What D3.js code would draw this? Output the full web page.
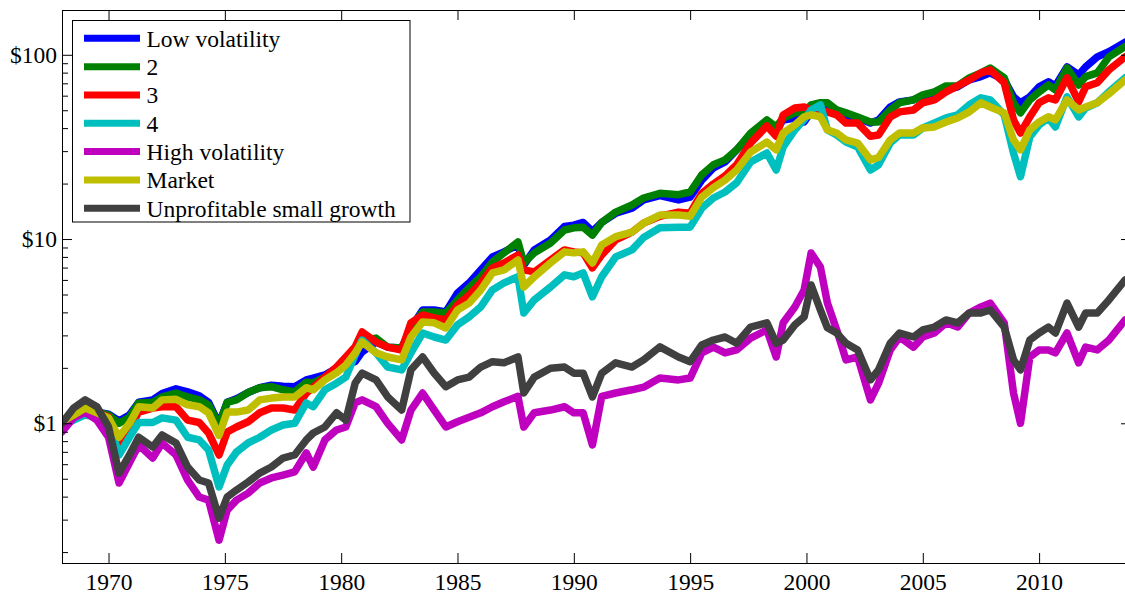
<!DOCTYPE html>
<html>
<head>
<meta charset="utf-8">
<script src="https://cdn.jsdelivr.net/npm/d3@7"></script>
<style>
  body { margin: 0; background: #fff; }
  svg { display: block; }
  text { font-family: "Liberation Serif", "Times New Roman", serif; }
</style>
</head>
<body>
<svg id="chart" width="1125" height="594"></svg>
<script>
// ---------------- data ----------------
const dates = [1968.0,1968.5,1969.0,1969.5,1970.0,1970.45,1970.9,1971.3,1971.9,1972.3,
1972.9,1973.4,1973.9,1974.3,1974.75,1975.1,1975.5,1976.0,1976.5,1977.0,
1977.5,1978.0,1978.5,1978.8,1979.3,1979.8,1980.2,1980.6,1980.9,1981.5,
1982.0,1982.6,1983.0,1983.5,1984.0,1984.5,1985.0,1985.5,1986.0,1986.5,
1987.0,1987.6,1987.85,1988.3,1989.0,1989.6,1990.0,1990.4,1990.8,1991.2,
1991.8,1992.5,1993.0,1993.7,1994.5,1995.0,1995.5,1996.0,1996.5,1997.0,
1997.6,1998.3,1998.7,1999.0,1999.5,1999.9,2000.2,2000.6,2000.9,2001.3,
2001.7,2002.2,2002.75,2003.1,2003.6,2004.0,2004.6,2005.0,2005.5,2006.0,
2006.5,2007.0,2007.5,2007.9,2008.5,2008.9,2009.2,2009.6,2010.0,2010.4,
2010.7,2011.2,2011.7,2012.0,2012.5,2013.0,2013.7];

const lowVolatility = [1.00,1.12,1.21,1.15,1.12,1.03,1.11,1.30,1.34,1.45,
1.54,1.48,1.41,1.30,0.99,1.30,1.36,1.47,1.56,1.61,
1.59,1.58,1.72,1.76,1.83,1.99,2.13,2.16,2.44,2.76,
2.59,2.56,3.29,4.12,4.12,4.02,5.09,5.78,6.80,8.00,
8.52,9.29,7.23,8.73,9.89,11.7,11.9,12.3,11.0,12.3,
13.8,14.7,16.3,17.2,16.3,16.9,20.9,24.3,26.2,30.5,
36.7,43.2,39.1,44.3,45.4,43.2,49.0,52.7,52.7,49.0,
46.6,45.4,42.6,44.3,52.1,55.5,56.9,59.8,62.1,64.5,
67.0,73.1,76.1,79.8,73.1,59.1,54.9,59.1,67.0,71.4,
67.8,86.0,77.8,86.0,97.4,104,117];

const quintile2 = [1.00,1.12,1.22,1.15,1.11,1.00,1.08,1.29,1.30,1.39,
1.46,1.39,1.34,1.26,0.979,1.30,1.34,1.47,1.56,1.58,
1.52,1.48,1.67,1.66,1.78,1.99,2.13,2.44,2.83,2.90,
2.59,2.56,3.29,4.02,4.02,3.97,4.67,5.43,6.24,7.51,
8.41,9.65,7.42,8.41,9.52,11.2,11.5,11.6,10.5,12.3,
14.0,15.3,16.7,17.7,17.4,18.0,22.3,25.3,26.9,30.5,
37.6,44.3,40.6,45.4,48.4,49.0,53.5,54.9,54.9,50.2,
48.4,46.0,43.2,43.2,50.2,54.9,56.9,60.6,62.9,67.8,
67.8,74.9,79.8,84.8,74.9,54.9,48.4,56.9,62.9,68.6,
64.5,84.8,68.6,76.1,79.8,97.4,111];

const quintile3 = [0.99,1.11,1.20,1.14,1.08,0.763,0.943,1.15,1.21,1.23,
1.23,1.04,1.01,0.886,0.673,0.897,0.955,1.02,1.14,1.21,
1.21,1.18,1.46,1.57,1.78,2.02,2.29,2.60,3.13,2.76,
2.59,2.50,3.51,3.87,3.73,3.64,4.39,4.97,5.78,6.97,
7.42,8.20,6.80,6.63,7.70,8.73,8.52,8.41,6.97,8.20,
9.89,10.9,12.2,13.3,14.0,13.8,17.7,19.9,22.0,25.3,
33.2,41.1,36.1,47.2,51.4,52.1,50.2,50.2,49.0,47.2,
42.6,42.6,36.1,36.7,46.0,49.0,50.2,54.9,56.9,62.9,
67.8,73.1,79.8,82.8,70.5,44.3,37.6,46.0,54.9,58.4,
56.9,75.0,55.5,67.0,70.5,82.8,97.4];

const quintile4 = [0.97,1.04,1.11,1.08,1.04,0.673,0.84,1.01,1.01,1.07,
1.04,0.84,0.812,0.716,0.451,0.594,0.698,0.782,0.84,0.92,
0.979,1.00,1.29,1.23,1.52,1.65,1.78,2.35,2.83,2.41,
2.02,1.95,2.41,3.09,2.94,2.83,3.42,3.78,4.28,5.29,
5.78,6.24,3.97,4.67,5.49,6.39,6.24,6.55,4.86,6.24,
8.00,8.73,10.2,11.5,11.6,11.6,14.7,16.7,18.0,20.2,
26.2,29.3,23.7,31.6,39.1,44.5,50.2,53.5,39.1,36.7,
33.6,31.6,23.7,25.3,33.2,36.7,36.7,40.1,42.6,45.4,
47.2,53.5,58.4,56.9,47.2,29.3,21.8,35.8,41.6,45.4,
40.6,59.1,46.0,51.4,54.9,62.9,75.0];

const highVolatility = [0.90,1.07,1.15,1.04,0.84,0.474,0.61,0.763,0.648,0.782,
0.673,0.492,0.398,0.383,0.232,0.338,0.383,0.418,0.474,0.505,
0.524,0.545,0.69,0.579,0.812,0.92,0.955,1.29,1.34,1.23,
1.00,0.812,1.18,1.46,1.18,0.955,1.02,1.08,1.14,1.23,
1.31,1.40,0.955,1.14,1.18,1.23,1.14,1.14,0.763,1.40,
1.46,1.52,1.57,1.76,1.72,1.76,2.41,2.59,2.41,2.50,
2.90,3.21,2.29,3.51,4.28,5.29,8.4,7.04,4.5,3.21,
2.21,2.29,1.34,1.65,2.50,2.94,2.59,2.94,3.09,3.51,
3.33,3.97,4.28,4.49,3.51,1.46,1.00,2.29,2.50,2.50,
2.41,3.09,2.13,2.59,2.50,2.83,3.64];

const market = [1.02,1.11,1.21,1.14,1.07,0.84,1.00,1.23,1.21,1.34,
1.35,1.26,1.23,1.14,0.86,1.15,1.15,1.18,1.34,1.37,
1.39,1.39,1.56,1.52,1.72,1.88,2.07,2.41,2.76,2.41,
2.29,2.21,2.94,3.55,3.51,3.29,4.12,4.49,5.29,6.55,
6.80,7.70,5.49,6.24,7.42,8.52,8.41,8.52,7.42,9.29,
10.3,10.9,12.2,13.5,13.5,13.3,16.9,19.0,20.9,23.7,
29.7,33.6,30.5,37.6,41.6,46.1,47.2,46.1,39.1,37.6,
34.5,33.2,26.9,27.7,34.5,37.6,37.6,40.1,40.6,43.2,
45.4,49.0,54.9,52.1,48.4,34.5,30.5,39.1,43.2,46.1,
44.3,56.9,50.2,52.1,54.9,61.4,73.0];

const unprofitableSmallGrowth = [1.00,1.21,1.34,1.23,0.955,0.537,0.673,0.84,0.744,0.864,
0.782,0.579,0.492,0.474,0.306,0.398,0.434,0.480,0.537,0.579,
0.648,0.673,0.812,0.886,0.955,1.14,1.04,1.65,1.87,1.72,
1.39,1.18,1.95,2.29,1.87,1.58,1.72,1.78,2.02,2.16,
2.13,2.29,1.46,1.78,1.99,2.02,1.87,1.87,1.39,1.87,
2.13,2.02,2.21,2.60,2.29,2.16,2.66,2.83,2.94,2.72,
3.33,3.51,2.72,2.83,3.42,3.78,5.63,4.12,3.3,3.09,
2.72,2.50,1.72,1.95,2.72,3.09,2.94,3.21,3.33,3.64,
3.51,3.97,3.97,4.12,3.33,2.21,1.95,2.83,3.09,3.33,
3.09,4.49,3.33,3.97,3.97,4.67,6.00];

const seriesNames = ["Low volatility","2","3","4","High volatility","Market","Unprofitable small growth"];
const seriesValues = [lowVolatility, quintile2, quintile3, quintile4, highVolatility, market, unprofitableSmallGrowth];
const seriesColors = ["#0000ff","#008000","#ff0000","#00bfbf","#bf00bf","#bfbf00","#404040"];

const xTickValues = [1970,1975,1980,1985,1990,1995,2000,2005,2010];
const yTickValues = [1,10,100];
const yTickLabels = ["$1","$10","$100"];
const yMinorTicks = [0.2,0.3,0.4,0.5,0.6,0.7,0.8,0.9,2,3,4,5,6,7,8,9,20,30,40,50,60,70,80,90];

// ---------------- layout ----------------
const L = 62, R = 1131, T = 10, B = 563;
const svg = d3.select("#chart");

const x = d3.scaleLinear().domain([1968, 2013.95]).range([L, R]);
const y = d3.scaleLog().domain([0.1745, 175]).range([B, T]);

svg.append("defs").append("clipPath").attr("id","plotclip")
  .append("rect").attr("x", L).attr("y", T).attr("width", R - L).attr("height", B - T);

const line = d3.line().x(d => x(d[0])).y(d => y(d[1]));
const g = svg.append("g").attr("clip-path", "url(#plotclip)");
seriesValues.forEach((vals, i) => {
  g.append("path")
    .datum(dates.map((d, k) => [d, vals[k]]))
    .attr("d", line)
    .attr("fill", "none")
    .attr("stroke", seriesColors[i])
    .attr("stroke-width", 7.5)
    .attr("stroke-linejoin", "round")
    .attr("stroke-linecap", "round");
});

svg.append("rect").attr("x", L + 0.5).attr("y", T + 0.5)
  .attr("width", R - L).attr("height", B - T)
  .attr("fill", "none").attr("stroke", "#000").attr("stroke-width", 1);

const fontSize = 23.5;
const xb = svg.append("g").attr("transform", `translate(0,${B})`)
  .call(d3.axisBottom(x).tickValues(xTickValues).tickFormat(d3.format("d")).tickSize(-10).tickPadding(10));
const xt = svg.append("g").attr("transform", `translate(0,${T})`)
  .call(d3.axisTop(x).tickValues(xTickValues).tickFormat("").tickSize(-10));
const yl = svg.append("g").attr("transform", `translate(${L},0)`)
  .call(d3.axisLeft(y).tickValues(yTickValues).tickFormat((d, i) => yTickLabels[i]).tickSize(-10).tickPadding(5));
const yr = svg.append("g").attr("transform", `translate(${R},0)`)
  .call(d3.axisRight(y).tickValues(yTickValues).tickFormat("").tickSize(-10));
const ylm = svg.append("g").attr("transform", `translate(${L},0)`)
  .call(d3.axisLeft(y).tickValues(yMinorTicks).tickFormat("").tickSize(-6));
const yrm = svg.append("g").attr("transform", `translate(${R},0)`)
  .call(d3.axisRight(y).tickValues(yMinorTicks).tickFormat("").tickSize(-6));

[xb, xt, yl, yr, ylm, yrm].forEach(a => {
  a.select(".domain").remove();
  a.selectAll(".tick line").attr("stroke", "#000").attr("stroke-width", 1);
  a.selectAll("text").attr("font-size", fontSize).attr("fill", "#000")
    .attr("font-family", "Liberation Serif, Times New Roman, serif");
});

const lg = svg.append("g");
lg.append("rect").attr("x", 72.5).attr("y", 20.5).attr("width", 337.5).attr("height", 201.5)
  .attr("fill", "#fff").attr("stroke", "#000").attr("stroke-width", 1);
seriesNames.forEach((name, i) => {
  const cy = 38.3 + i * 28.33;
  lg.append("line").attr("x1", 84).attr("x2", 140).attr("y1", cy).attr("y2", cy)
    .attr("stroke", seriesColors[i]).attr("stroke-width", 7);
  lg.append("text").attr("x", 146.5).attr("y", cy).attr("dy", "0.35em")
    .attr("font-size", fontSize).attr("fill", "#000").text(name);
});
</script>
</body>
</html>
